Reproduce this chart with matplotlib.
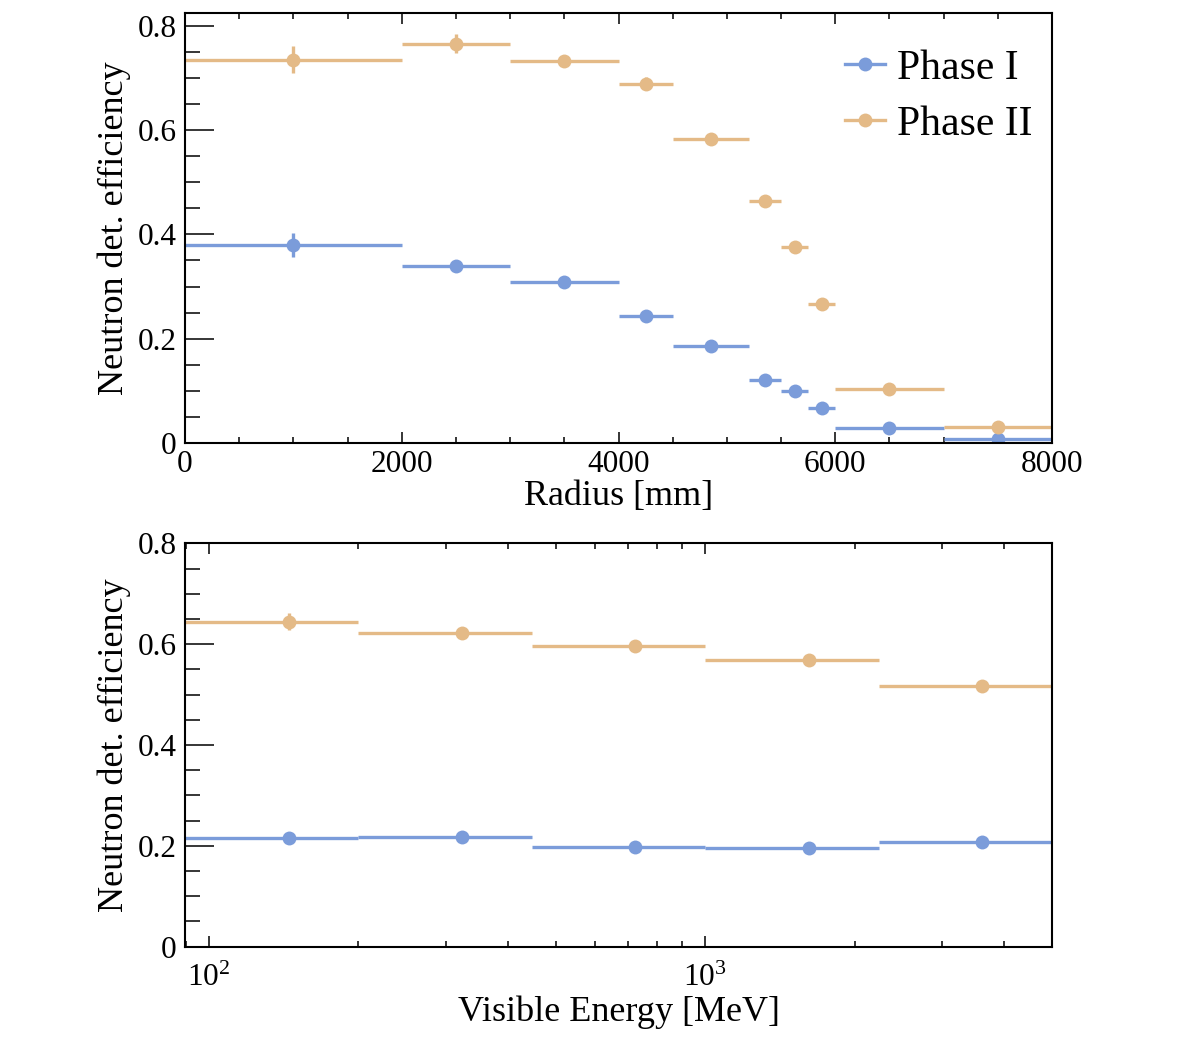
import numpy as np
import matplotlib
matplotlib.use("Agg")
import matplotlib.pyplot as plt
from matplotlib.lines import Line2D
from matplotlib.ticker import MultipleLocator, LogLocator, FuncFormatter, LogFormatterMathtext, NullFormatter

plt.rcParams['font.family'] = ['Liberation Serif', 'DejaVu Serif']
plt.rcParams['mathtext.fontset'] = 'custom'
plt.rcParams['mathtext.rm'] = 'Liberation Serif'
plt.rcParams['mathtext.it'] = 'Liberation Serif:italic'
plt.rcParams['mathtext.bf'] = 'Liberation Serif:bold'

# ---------------- data ----------------
radius_edges = [0, 2000, 3000, 4000, 4500, 5200, 5500, 5750, 6000, 7000, 8000]
rad_phase1 = [0.379, 0.340, 0.309, 0.243, 0.186, 0.120, 0.099, 0.068, 0.028, 0.008]
rad_phase1_err = [0.023, 0.010, 0.005, 0.005, 0.004, 0.004, 0.004, 0.003, 0.002, 0.002]
rad_phase2 = [0.735, 0.766, 0.733, 0.689, 0.582, 0.464, 0.375, 0.266, 0.104, 0.031]
rad_phase2_err = [0.026, 0.018, 0.006, 0.013, 0.005, 0.005, 0.005, 0.005, 0.004, 0.003]

energy_edges = [89.44, 200.0, 447.2, 1000.0, 2236.1, 5000.0]
en_phase1 = [0.215, 0.217, 0.198, 0.196, 0.208]
en_phase1_err = [0.005, 0.005, 0.004, 0.004, 0.004]
en_phase2 = [0.645, 0.622, 0.596, 0.569, 0.518]
en_phase2_err = [0.017, 0.006, 0.005, 0.004, 0.004]

labels = ["Phase I", "Phase II"]
c1 = "#7b9cda"
c2 = "#e4ba87"

# ---------------- figure ----------------
fig = plt.figure(figsize=(11.82, 10.38), dpi=100)
W, H = 1182, 1038
ax1 = fig.add_axes([185 / W, 1 - 443 / H, 867 / W, 430 / H])
ax2 = fig.add_axes([185 / W, 1 - 946.7 / H, 867 / W, 403.3 / H])

ms = 10
lw = 2.4

def draw(ax, edges, vals, errs, color, label):
    edges = np.asarray(edges, dtype=float)
    lo, hi = edges[:-1], edges[1:]
    cen = 0.5 * (lo + hi)
    ax.errorbar(cen, vals, yerr=errs, xerr=[cen - lo, hi - cen], fmt='o',
                color=color, ms=ms, elinewidth=lw, capsize=0, label=label,
                markeredgewidth=0)

draw(ax1, radius_edges, rad_phase1, rad_phase1_err, c1, labels[0])
draw(ax1, radius_edges, rad_phase2, rad_phase2_err, c2, labels[1])
draw(ax2, energy_edges, en_phase1, en_phase1_err, c1, labels[0])
draw(ax2, energy_edges, en_phase2, en_phase2_err, c2, labels[1])

yfmt = FuncFormatter(lambda v, p: "%g" % round(v, 3))

# top panel
ax1.set_xlim(0, 8000)
ax1.set_ylim(0, 0.8245)
ax1.xaxis.set_major_locator(MultipleLocator(2000))
ax1.xaxis.set_minor_locator(MultipleLocator(500))
ax1.yaxis.set_major_locator(MultipleLocator(0.2))
ax1.yaxis.set_minor_locator(MultipleLocator(0.05))
ax1.yaxis.set_major_formatter(yfmt)
ax1.set_xlabel("Radius [mm]", fontsize=26, labelpad=1)
ax1.set_ylabel("Neutron det. efficiency", fontsize=26, labelpad=5)

# bottom panel
ax2.set_xscale('log')
ax2.set_xlim(energy_edges[0], energy_edges[-1])
ax2.set_ylim(0, 0.8)
ax2.xaxis.set_major_locator(LogLocator(base=10, subs=(1.0,)))
ax2.xaxis.set_minor_locator(LogLocator(base=10, subs=np.arange(2, 10), numticks=20))
ax2.xaxis.set_major_formatter(LogFormatterMathtext())
ax2.xaxis.set_minor_formatter(NullFormatter())
ax2.yaxis.set_major_locator(MultipleLocator(0.2))
ax2.yaxis.set_minor_locator(MultipleLocator(0.05))
ax2.yaxis.set_major_formatter(yfmt)
ax2.set_xlabel("Visible Energy [MeV]", fontsize=26, labelpad=2)
ax2.set_ylabel("Neutron det. efficiency", fontsize=26, labelpad=5)

for ax in (ax1, ax2):
    for s in ax.spines.values():
        s.set_linewidth(1.5)
    ax.tick_params(axis='x', which='both', direction='in', top=True, bottom=True,
                   labelsize=22.5, width=1.1, pad=5)
    ax.tick_params(axis='x', which='major', length=8)
    ax.tick_params(axis='x', which='minor', length=4.5)
    ax.tick_params(axis='y', which='both', direction='in', left=True, right=False,
                   labelsize=22.5, width=1.1, pad=6)
    ax.tick_params(axis='y', which='major', length=21)
    ax.tick_params(axis='y', which='minor', length=10.5)
ax2.tick_params(axis='x', which='major', pad=12)

handles = [Line2D([], [], color=c1, marker='o', ms=ms, lw=lw, markeredgewidth=0),
           Line2D([], [], color=c2, marker='o', ms=ms, lw=lw, markeredgewidth=0)]
ax1.legend(handles, labels, loc='upper left', bbox_to_anchor=(0.752, 0.935), frameon=False,
           fontsize=30, handlelength=0.95, handletextpad=0.3, labelspacing=0.42,
           borderaxespad=0, borderpad=0.2)

fig.savefig("out.png", dpi=100)
